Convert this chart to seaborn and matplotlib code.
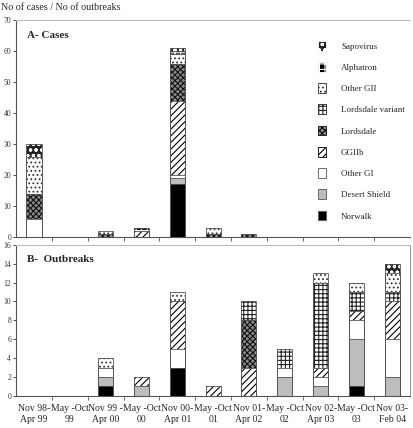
import numpy as np
import pandas as pd
import matplotlib
matplotlib.use("Agg")
import matplotlib.pyplot as plt
from matplotlib.patches import Patch
import seaborn as sns

sns.set_style("ticks")
plt.rcParams['font.family'] = ['Liberation Serif', 'DejaVu Serif']
plt.rcParams['hatch.linewidth'] = 0.8

periods = ["Nov 98-\nApr 99", "May -Oct\n99", "Nov 99 -\nApr 00", "May -Oct\n00",
           "Nov 00-\nApr 01", "May -Oct\n01", "Nov 01-\nApr 02", "May -Oct\n02",
           "Nov 02-\nApr 03", "May -Oct\n03", "Nov 03-\nFeb 04"]

strains = ["Norwalk", "Desert Shield", "Other GI", "GGIIb", "Lordsdale",
           "Lordsdale variant", "Other GII", "Alphatron", "Sapovirus"]

# Panel A - number of cases
norwalk_c     = [0, 0, 0, 0, 17, 0, 0, 0, 0, 0, 0]
desert_c      = [0, 0, 0, 0, 2, 0, 0, 0, 0, 0, 0]
othergi_c     = [6, 0, 0, 0, 1, 0, 0, 0, 0, 0, 0]
ggiib_c       = [0, 0, 0, 2, 24, 0, 0, 0, 0, 0, 0]
lordsdale_c   = [8, 0, 1, 0, 12, 1, 1, 0, 0, 0, 0]
lordvar_c     = [0, 0, 0, 0, 0, 0, 0, 0, 0, 0, 0]
othergii_c    = [12, 0, 1, 0, 3, 2, 0, 0, 0, 0, 0]
alphatron_c   = [0, 0, 0, 1, 1, 0, 0, 0, 0, 0, 0]
sapovirus_c   = [4, 0, 0, 0, 1, 0, 0, 0, 0, 0, 0]

# Panel B - number of outbreaks
norwalk_o     = [0, 0, 1, 0, 3, 0, 0, 0, 0, 1, 0]
desert_o      = [0, 0, 1, 1, 0, 0, 0, 2, 1, 5, 2]
othergi_o     = [0, 0, 1, 0, 2, 0, 0, 1, 1, 2, 4]
ggiib_o       = [0, 0, 0, 1, 5, 1, 3, 0, 1, 1, 4]
lordsdale_o   = [0, 0, 0, 0, 0, 0, 5, 0, 0, 0, 0]
lordvar_o     = [0, 0, 0, 0, 0, 0, 2, 2, 9, 2, 1]
othergii_o    = [0, 0, 1, 0, 1, 0, 0, 0, 1, 1, 2]
alphatron_o   = [0, 0, 0, 0, 0, 0, 0, 0, 0, 0, 0]
sapovirus_o   = [0, 0, 0, 0, 0, 0, 0, 0, 0, 0, 1]

cases = [norwalk_c, desert_c, othergi_c, ggiib_c, lordsdale_c, lordvar_c,
         othergii_c, alphatron_c, sapovirus_c]
outbreaks = [norwalk_o, desert_o, othergi_o, ggiib_o, lordsdale_o, lordvar_o,
             othergii_o, alphatron_o, sapovirus_o]

# style per strain: (facecolor, hatch colour, hatch)
styles = {
    "Norwalk":           ("black",   "black", None),
    "Desert Shield":     ("#bdbdbd", "#bdbdbd", None),
    "Other GI":          ("white",   "white", None),
    "GGIIb":             ("white",   "black", "/////"),
    "Lordsdale":         ("#8a8a8a", "#111111", "xxxxxx"),
    "Lordsdale variant": ("white",   "#222222", "++++"),
    "Other GII":         ("white",   "#333333", "...."),
    "Alphatron":         ("black",   "white", "+++"),
    "Sapovirus":         ("#222222", "white", "ooo"),
}

W = 0.42
fig = plt.figure(figsize=(4.13, 4.28), dpi=100)
axA = fig.add_axes([0.039, 0.446, 0.954, 0.507])
axB = fig.add_axes([0.039, 0.075, 0.954, 0.353])


def draw(ax, layers):
    cum = np.cumsum(np.array(layers, dtype=float), axis=0)
    # fill layers from top to bottom so lower segments cover upper cumulative bars
    for i in range(len(strains) - 1, -1, -1):
        fc, hc, h = styles[strains[i]]
        y = np.where(cum[i] > 0, cum[i], np.nan)
        df = pd.DataFrame({"period": periods, "v": y})
        sns.barplot(data=df, x="period", y="v", order=periods, ax=ax,
                    color=fc, saturation=1, edgecolor=hc, hatch=h,
                    linewidth=0, width=W, errorbar=None)
    # outlines
    for i in range(len(strains)):
        y = np.where((cum[i] > 0) & (np.array(layers[i]) > 0), cum[i], np.nan)
        df = pd.DataFrame({"period": periods, "v": y})
        sns.barplot(data=df, x="period", y="v", order=periods, ax=ax,
                    fill=False, edgecolor="#555555", linewidth=0.6,
                    width=W, errorbar=None)


draw(axA, cases)
draw(axB, outbreaks)

for ax, ymax, step in [(axA, 70, 10), (axB, 16, 2)]:
    ax.set_xlim(-0.5, len(periods) - 0.5)
    ax.set_ylim(0, ymax)
    ax.set_yticks(np.arange(0, ymax + 1, step))
    ax.set_xlabel("")
    ax.set_ylabel("")
    ax.tick_params(axis="y", labelsize=5.5, length=2, width=0.6, pad=1.5, colors="#333333")
    ax.tick_params(axis="x", which="major", length=0, labelsize=7, pad=6)
    ax.set_xticks(np.arange(0.5, len(periods) - 0.5), minor=True)
    ax.tick_params(axis="x", which="minor", length=3, width=0.6, color="#555555")
    for s in ["left", "bottom"]:
        ax.spines[s].set_color("#555555")
        ax.spines[s].set_linewidth(0.8)
    ax.spines["top"].set_visible(True)
    ax.spines["top"].set_color("#bbbbbb")
    ax.spines["top"].set_linewidth(0.8)

axA.spines["right"].set_visible(False)
axB.spines["right"].set_visible(True)
axB.spines["right"].set_color("#999999")
axB.spines["right"].set_linewidth(0.8)
axA.set_xticklabels([])

axA.text(0.027, 0.93, "A- Cases", transform=axA.transAxes, fontsize=8,
         fontweight="bold", va="center", ha="left")
axB.text(0.027, 0.9, "B-  Outbreaks", transform=axB.transAxes, fontsize=8,
         fontweight="bold", va="center", ha="left")
fig.text(0.003, 0.982, "No of cases / No of outbreaks", fontsize=7.2,
         ha="left", va="center")

handles = []
for s in reversed(strains):
    fc, hc, h = styles[s]
    edge = "#555555" if h is None else hc
    handles.append(Patch(facecolor=fc, edgecolor=edge, hatch=h, linewidth=0.6))
leg = axA.legend(handles, list(reversed(strains)), loc="upper right",
                 bbox_to_anchor=(1.0, 0.93), frameon=False, fontsize=6.5,
                 handlelength=0.9, handleheight=1.3, labelspacing=1.25,
                 handletextpad=1.6, borderaxespad=0.2)

fig.savefig("out.png", dpi=100)
